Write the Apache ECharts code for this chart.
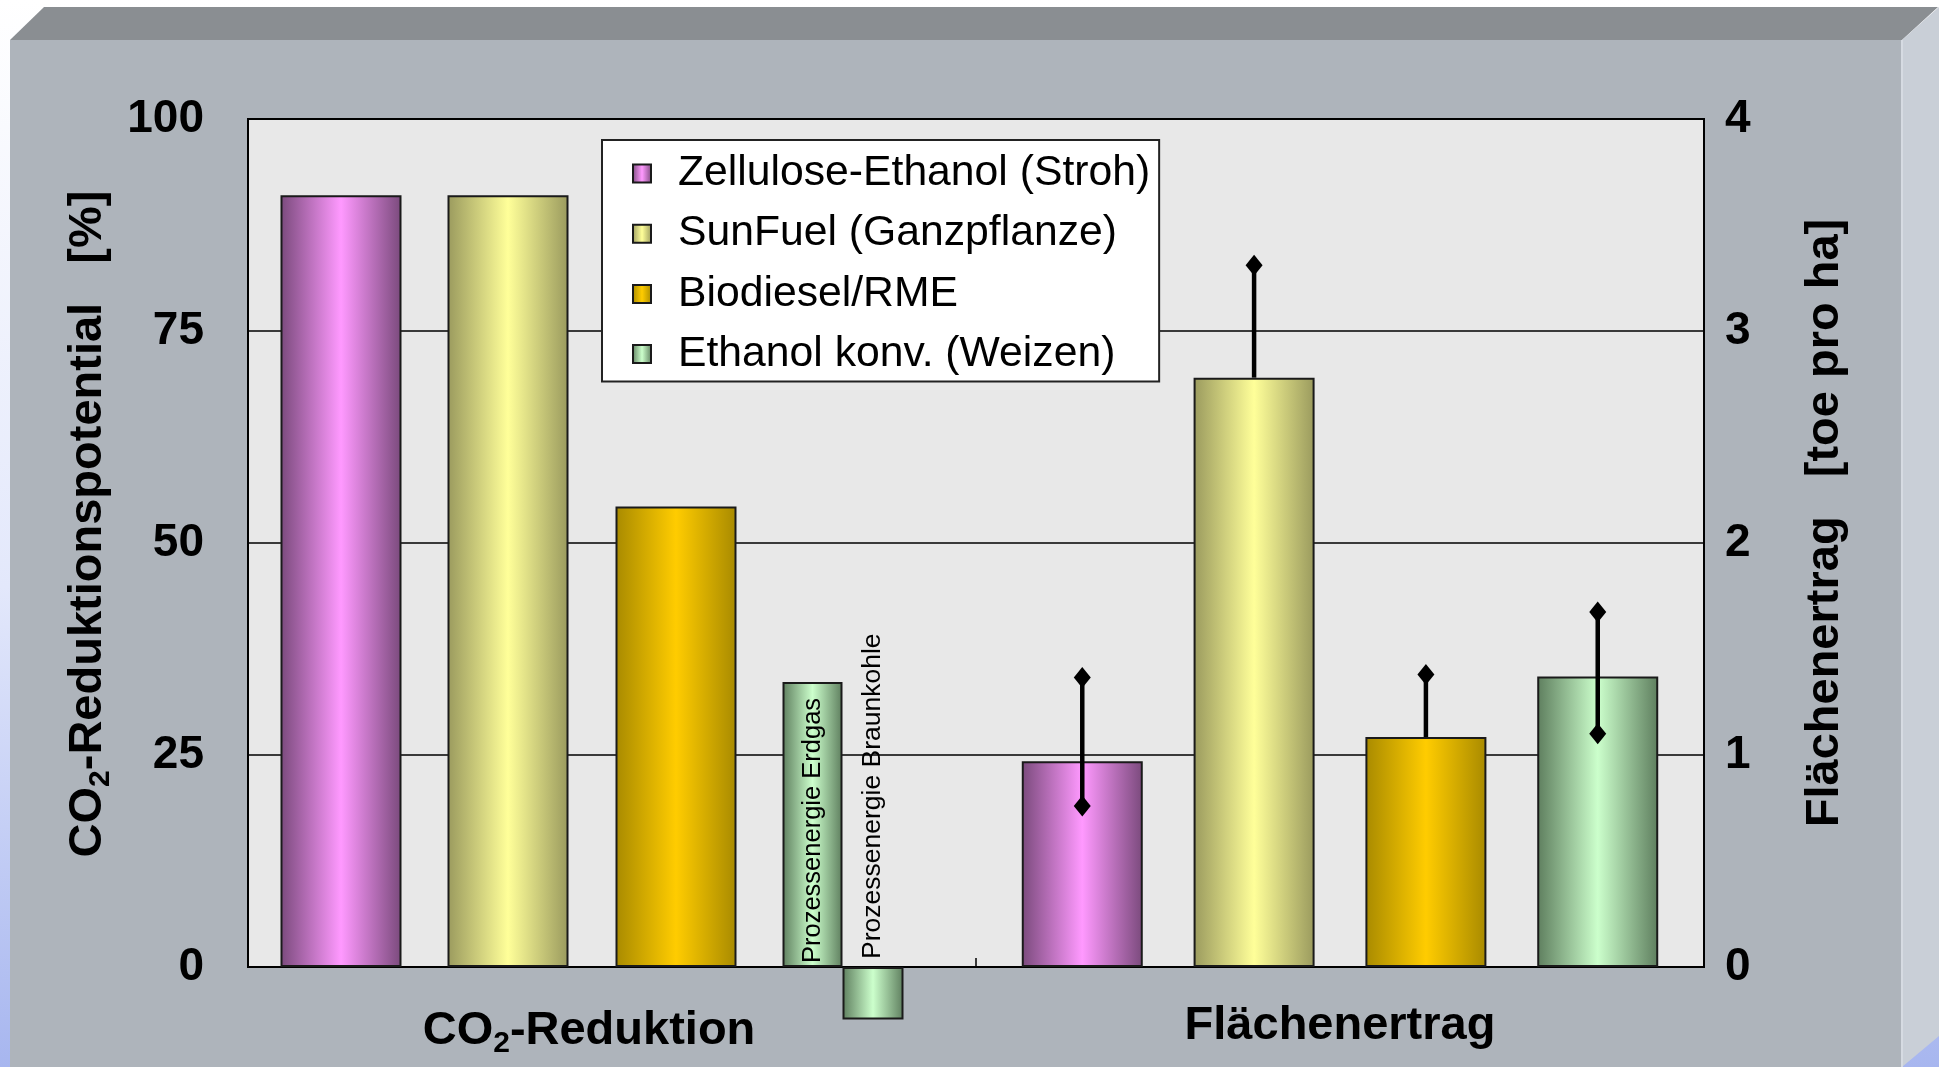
<!DOCTYPE html>
<html>
<head>
<meta charset="utf-8">
<script src="https://cdn.jsdelivr.net/npm/echarts@6/dist/echarts.min.js"></script>
<style>
html, body { margin: 0; padding: 0; overflow: hidden; }
#chart { width: 1939px; height: 1067px; background: linear-gradient(180deg, #ffffff 0%, #e3e8fb 55%, #a7b6ef 100%); }
</style>
</head>
<body>
<div id="chart"></div>
<script>
// ---------- data ----------
const categories = ['CO2-Reduktion', 'Flächenertrag'];
const fuels = ['Zellulose-Ethanol (Stroh)', 'SunFuel (Ganzpflanze)', 'Biodiesel/RME', 'Ethanol konv. (Weizen)'];
const co2Reduction = [91, 91, 54.3, 33.6];          // % (Ethanol konv. with Prozessenergie Erdgas)
const co2EthanolBraunkohle = [-6.2];                // % (Ethanol konv. with Prozessenergie Braunkohle)
const areaYield = [0.97, 2.78, 1.085, 1.37];         // toe pro ha
const yieldErrLow = [0.76, null, null, 1.10];
const yieldErrHigh = [1.365, 3.31, 1.38, 1.675];
const leftTicks = [0, 25, 50, 75, 100];
const rightTicks = [0, 1, 2, 3, 4];
const erdgasText = 'Prozessenergie Erdgas';
const braunkohleText = 'Prozessenergie Braunkohle';

// ---------- style ----------
const FONT = '"Liberation Sans", Arial, Helvetica, sans-serif';
const palette = [['#7a4a7c', '#ff99ff'], ['#9a9a5e', '#ffff99'], ['#a88a00', '#ffcc00'], ['#5e7e5e', '#ccffcc']];
function grad(p) {
  return { type: 'linear', x: 0, y: 0, x2: 1, y2: 0,
    colorStops: [{ offset: 0, color: p[0] }, { offset: 0.5, color: p[1] }, { offset: 1, color: p[0] }] };
}
const BAR_W = 121;
const GAP1 = [46, 47, 46];
const HALF_W = [60, 61];
const TAIL = 40;
const BAR_GAP2 = 0.42;
const border = { borderColor: '#1a1a1a', borderWidth: 2 };

function spacer(w) {
  return { type: 'bar', name: '', xAxisIndex: 0, yAxisIndex: 0, barWidth: w, barGap: '0%',
    data: ['-', '-'], silent: true, itemStyle: { color: 'transparent' } };
}

const series = [];
fuels.forEach((name, i) => {
  if (i < 3) {
    series.push({ type: 'bar', name, xAxisIndex: 0, yAxisIndex: 0, barWidth: BAR_W, barGap: '0%',
      data: [co2Reduction[i], '-'], itemStyle: Object.assign({ color: grad(palette[i]) }, border) });
    series.push(spacer(GAP1[i]));
  } else {
    series.push({ type: 'bar', name, xAxisIndex: 0, yAxisIndex: 0, barWidth: HALF_W[0], barGap: '0%',
      data: [co2Reduction[i], '-'], itemStyle: Object.assign({ color: grad(palette[i]) }, border),
      label: { show: true, position: 'insideBottom', rotate: 90, align: 'left', verticalAlign: 'middle',
        distance: 4, formatter: erdgasText, fontSize: 25.5, fontFamily: FONT, color: '#000' } });
    series.push({ type: 'bar', name: braunkohleText, xAxisIndex: 0, yAxisIndex: 0, barWidth: HALF_W[1], barGap: '0%',
      clip: false, data: [co2EthanolBraunkohle[0], '-'], itemStyle: Object.assign({ color: grad(palette[i]) }, border),
      label: { show: true, position: 'top', rotate: 90, align: 'left', verticalAlign: 'middle',
        distance: 8, formatter: braunkohleText, fontSize: 26.5, fontFamily: FONT, color: '#000' } });
    series.push(spacer(TAIL));
  }
});
fuels.forEach((name, i) => {
  series.push({ type: 'bar', name, xAxisIndex: 1, yAxisIndex: 1, barWidth: BAR_W, barGap: (BAR_GAP2 * 100) + '%',
    data: ['-', areaYield[i]], itemStyle: Object.assign({ color: grad(palette[i]) }, border) });
});

function diamond(x, y) {
  return { type: 'polygon', shape: { points: [[x, y - 10.5], [x + 8.5, y], [x, y + 10.5], [x - 8.5, y]] }, style: { fill: '#000' } };
}
series.push({
  type: 'custom', name: 'err', xAxisIndex: 1, yAxisIndex: 1, z: 5, silent: true,
  encode: { x: 0, y: [1, 2] },
  data: fuels.map((f, i) => [categories[1], yieldErrLow[i] == null ? areaYield[i] : yieldErrLow[i], yieldErrHigh[i], yieldErrLow[i] == null ? 0 : 1]),
  renderItem: (params, api) => {
    const i = params.dataIndex;
    const n = fuels.length;
    const cx = api.coord([api.value(0), 0])[0];
    const total = n * BAR_W + (n - 1) * BAR_W * BAR_GAP2;
    const x = cx - total / 2 + i * BAR_W * (1 + BAR_GAP2) + BAR_W / 2;
    const yLow = api.coord([api.value(0), api.value(1)])[1];
    const yHigh = api.coord([api.value(0), api.value(2)])[1];
    const children = [
      { type: 'line', shape: { x1: x, y1: yLow, x2: x, y2: yHigh }, style: { stroke: '#000', lineWidth: 4.5 } },
      diamond(x, yHigh)
    ];
    if (api.value(3)) children.push(diamond(x, yLow));
    return { type: 'group', children };
  }
});

const boldRich = {
  b: { fontSize: 47, fontWeight: 'bold', fontFamily: FONT, color: '#000' },
  s: { fontSize: 30, fontWeight: 'bold', fontFamily: FONT, color: '#000', padding: [26, 0, 0, 0] },
  pad: { width: 46, fontSize: 47 }
};

const option = {
  animation: false,
  backgroundColor: 'transparent',
  graphic: [
    { type: 'rect', z: -100, silent: true, shape: { x: 10, y: 40, width: 1892, height: 1027 }, style: { fill: '#aeb4bb' } },
    { type: 'polygon', z: -100, silent: true, shape: { points: [[10, 40], [44, 7], [1938, 7], [1902, 40]] }, style: { fill: '#8a8e92' } },
    { type: 'polygon', z: -100, silent: true, shape: { points: [[1902, 40], [1939, 7], [1939, 1036], [1902, 1067]] }, style: { fill: '#c9cfd7' } },
    { type: 'line', z: -99, silent: true, shape: { x1: 1902, y1: 40, x2: 1902, y2: 1067 }, style: { stroke: '#d6dbe2', lineWidth: 2 } }
  ],
  grid: { left: 248, right: 235, top: 119, bottom: 100, show: true, backgroundColor: '#e8e8e8',
    borderColor: '#000', borderWidth: 2, containLabel: false, outerBoundsMode: 'none' },
  legend: {
    data: fuels, orient: 'vertical', left: 602, top: 140, padding: [12, 9, 6, 30],
    itemWidth: 18, itemHeight: 18, itemGap: 17.2, icon: 'rect', selectedMode: false,
    backgroundColor: '#ffffff', borderColor: '#222', borderWidth: 2,
    textStyle: { fontSize: 42.7, fontFamily: FONT, color: '#000', padding: [0, 0, 0, 22] }
  },
  xAxis: [
    { type: 'category', data: categories, position: 'bottom',
      axisLine: { onZero: false, lineStyle: { color: '#000', width: 2 } },
      axisTick: { show: true, inside: true, length: 9, lineStyle: { color: '#000', width: 1.5 } },
      splitLine: { show: false },
      axisLabel: { interval: 0, margin: 36, rich: boldRich,
        formatter: v => v === categories[0] ? '{b|CO}{s|2}{b|-Reduktion}{pad| }' : '{b|' + v + '}' } },
    { type: 'category', data: categories, show: false }
  ],
  yAxis: [
    { type: 'value', position: 'left', min: leftTicks[0], max: leftTicks[leftTicks.length - 1], interval: leftTicks[1] - leftTicks[0],
      name: '{b|CO}{s|2}{b|-Reduktionspotential   [%]}', nameLocation: 'middle', nameGap: 132, nameRotate: 90,
      nameTextStyle: { rich: boldRich, padding: [0, 0, 0, 38] },
      axisLine: { show: false }, axisTick: { show: false },
      axisLabel: { margin: 44, fontSize: 46, fontWeight: 'bold', fontFamily: FONT, color: '#000' },
      splitLine: { show: true, lineStyle: { color: '#000', width: 1.5 } } },
    { type: 'value', position: 'right', min: rightTicks[0], max: rightTicks[rightTicks.length - 1], interval: rightTicks[1] - rightTicks[0],
      name: 'Flächenertrag   [toe pro ha]', nameLocation: 'middle', nameGap: 98, nameRotate: 90,
      nameTextStyle: { fontSize: 47, fontWeight: 'bold', fontFamily: FONT, color: '#000', padding: [0, 0, 0, 40] },
      axisLine: { show: false }, axisTick: { show: false },
      axisLabel: { margin: 21, fontSize: 46, fontWeight: 'bold', fontFamily: FONT, color: '#000' },
      splitLine: { show: false } }
  ],
  series
};

const chart = echarts.init(document.getElementById('chart'), null, { renderer: 'canvas' });
chart.setOption(option);
</script>
</body>
</html>
